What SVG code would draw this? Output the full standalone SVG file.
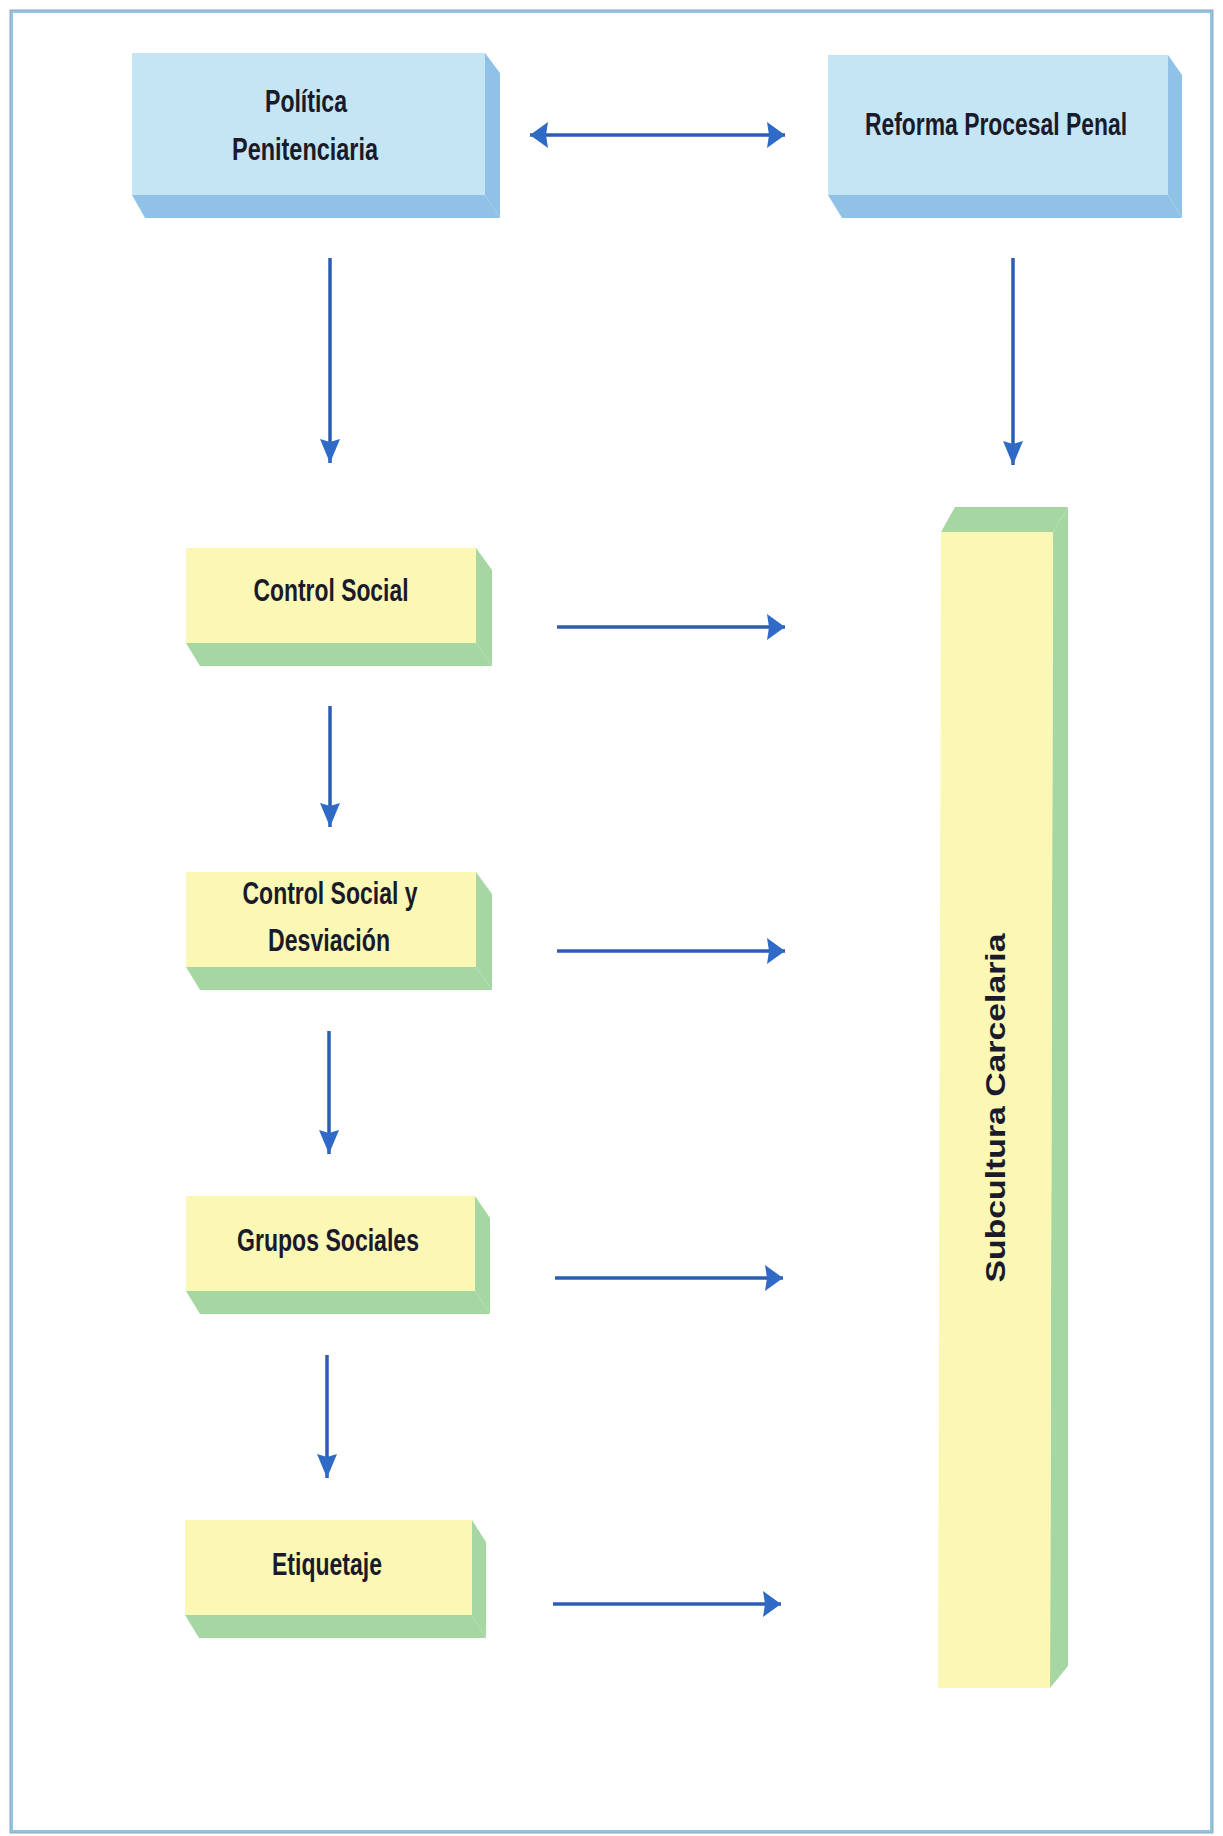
<svg xmlns="http://www.w3.org/2000/svg" width="1223" height="1836" viewBox="0 0 1223 1836">
<style>
.lbl{font-family:"Liberation Sans Narrow","Liberation Sans",Arial,sans-serif;font-weight:bold;font-size:31px;fill:#1a1a2a;text-anchor:middle}
.vlbl{font-family:"Liberation Sans",Arial,sans-serif;font-weight:bold;font-size:28px;fill:#1a1a2a;text-anchor:middle}
.bf{fill:#c4e5f4}
.bs{fill:#90c2e8}
.yf{fill:#fbf8b6}
.ys{fill:#a6d7a2}
.conn{stroke:#2c5db3;stroke-width:3.5;fill:none}
.hd{fill:#2f6bc6}
</style>
<defs>
<marker id="ah" markerUnits="userSpaceOnUse" markerWidth="22" markerHeight="30" viewBox="-20 -14 22 28" refX="0" refY="0" orient="auto-start-reverse">
<path class="hd" d="M0,0 L-18,-13 L-16,0 L-18,13 Z"/>
</marker>
<marker id="av" markerUnits="userSpaceOnUse" markerWidth="28" markerHeight="26" viewBox="-26 -12 28 24" refX="0" refY="0" orient="auto">
<path class="hd" d="M0,0 L-24,-10 L-21,0 L-24,10 Z"/>
</marker>
</defs>
<rect x="0" y="0" width="1223" height="1836" fill="#ffffff"/>
<rect x="11.5" y="11.5" width="1200" height="1820" fill="none" stroke="#8ec6e2" stroke-width="3"/>
<rect x="10" y="10" width="1203" height="1823" fill="none" stroke="#9aa6b8" stroke-width="1"/>

<g id="politica">
<polygon class="bs" points="132,195 485,195 500,218 145,218"/>
<polygon class="bs" points="485,53 500,73 500,218 485,195"/>
<rect class="bf" x="132" y="53" width="353" height="142"/>
<text class="lbl" x="306" y="112" textLength="82" lengthAdjust="spacingAndGlyphs">Política</text>
<text class="lbl" x="305" y="160" textLength="146" lengthAdjust="spacingAndGlyphs">Penitenciaria</text>
</g>

<g id="reforma">
<polygon class="bs" points="828,195 1168,195 1182,218 842,218"/>
<polygon class="bs" points="1168,55 1182,75 1182,218 1168,195"/>
<rect class="bf" x="828" y="55" width="340" height="140"/>
<text class="lbl" x="996" y="135" textLength="262" lengthAdjust="spacingAndGlyphs">Reforma Procesal Penal</text>
</g>

<g id="control-social">
<polygon class="ys" points="186,643 476,643 492,666 200,666"/>
<polygon class="ys" points="476,548 492,570 492,666 476,643"/>
<rect class="yf" x="186" y="548" width="290" height="95"/>
<text class="lbl" x="331" y="601" textLength="155" lengthAdjust="spacingAndGlyphs">Control Social</text>
</g>

<g id="control-social-desviacion">
<polygon class="ys" points="186,967 476,967 492,990 200,990"/>
<polygon class="ys" points="476,872 492,894 492,990 476,967"/>
<rect class="yf" x="186" y="872" width="290" height="95"/>
<text class="lbl" x="330" y="904" textLength="175" lengthAdjust="spacingAndGlyphs">Control Social y</text>
<text class="lbl" x="329" y="951" textLength="122" lengthAdjust="spacingAndGlyphs">Desviación</text>
</g>

<g id="grupos-sociales">
<polygon class="ys" points="186,1291 475,1291 490,1314 200,1314"/>
<polygon class="ys" points="475,1196 490,1218 490,1314 475,1291"/>
<rect class="yf" x="186" y="1196" width="289" height="95"/>
<text class="lbl" x="328" y="1251" textLength="182" lengthAdjust="spacingAndGlyphs">Grupos Sociales</text>
</g>

<g id="etiquetaje">
<polygon class="ys" points="185,1615 472,1615 486,1638 199,1638"/>
<polygon class="ys" points="472,1520 486,1542 486,1638 472,1615"/>
<rect class="yf" x="185" y="1520" width="287" height="95"/>
<text class="lbl" x="327" y="1575" textLength="110" lengthAdjust="spacingAndGlyphs">Etiquetaje</text>
</g>

<g id="subcultura">
<polygon class="ys" points="941,532 955,507 1068,507 1053,532"/>
<polygon class="ys" points="1053,532 1068,507 1068,1666 1050,1688"/>
<polygon class="yf" points="941,532 1053,532 1050,1688 938,1688"/>
<text class="vlbl" transform="translate(1005,1108) rotate(-90)" textLength="349" lengthAdjust="spacingAndGlyphs">Subcultura  Carcelaria</text>
</g>

<g id="connectors">
<line class="conn" x1="530" y1="135" x2="785" y2="135" marker-start="url(#ah)" marker-end="url(#ah)"/>
<line class="conn" x1="330" y1="258" x2="330" y2="463" marker-end="url(#av)"/>
<line class="conn" x1="1013" y1="258" x2="1013" y2="465" marker-end="url(#av)"/>
<line class="conn" x1="330" y1="706" x2="330" y2="827" marker-end="url(#av)"/>
<line class="conn" x1="329" y1="1031" x2="329" y2="1154" marker-end="url(#av)"/>
<line class="conn" x1="327" y1="1355" x2="327" y2="1478" marker-end="url(#av)"/>
<line class="conn" x1="557" y1="627" x2="785" y2="627" marker-end="url(#ah)"/>
<line class="conn" x1="557" y1="951" x2="785" y2="951" marker-end="url(#ah)"/>
<line class="conn" x1="555" y1="1278" x2="783" y2="1278" marker-end="url(#ah)"/>
<line class="conn" x1="553" y1="1604" x2="781" y2="1604" marker-end="url(#ah)"/>
</g>
</svg>
